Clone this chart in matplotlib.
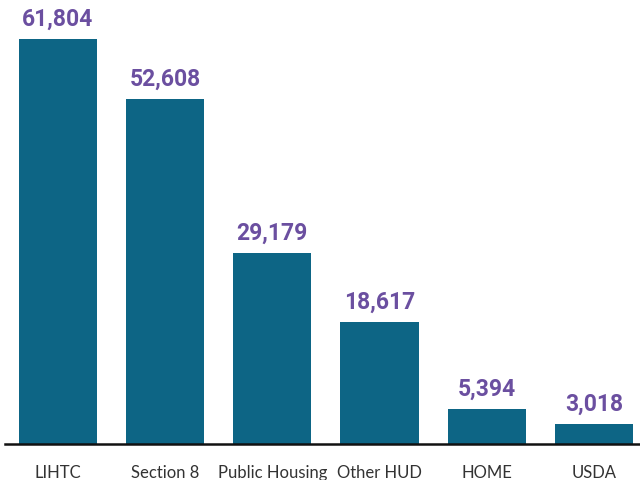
import matplotlib.pyplot as plt

categories = ["LIHTC", "Section 8", "Public Housing", "Other HUD", "HOME", "USDA"]
values = [61804, 52608, 29179, 18617, 5394, 3018]

bar_color = "#0d6585"
label_color = "#6b4fa0"

fig = plt.figure(figsize=(6.4, 4.8), dpi=100)
ax = fig.add_axes([5 / 640, 36 / 480, 635 / 640, 444 / 480])

x = list(range(len(categories)))
bars = ax.bar(x, values, width=0.73, color=bar_color, zorder=2)

for rect, v in zip(bars, values):
    ax.annotate(f"{v:,}", (rect.get_x() + rect.get_width() / 2, v),
                xytext=(0, 6), textcoords="offset points",
                ha="center", va="bottom", fontsize=16.5, fontweight="bold",
                color=label_color, family=["Roboto", "DejaVu Sans"])

ax.set_xlim(-0.494, 5.43)
ax.set_ylim(0, max(values) * 444 / 405)
ax.set_xticks(x)
ax.set_xticklabels(categories, fontsize=12, color="#333333", family=["Lato", "DejaVu Sans"])
ax.tick_params(axis="x", length=0, pad=15)
ax.set_yticks([])
for s in ["top", "right", "left"]:
    ax.spines[s].set_visible(False)
ax.spines["bottom"].set_linewidth(1.8)
ax.spines["bottom"].set_color("#111111")

fig.savefig("out.png", dpi=100)
